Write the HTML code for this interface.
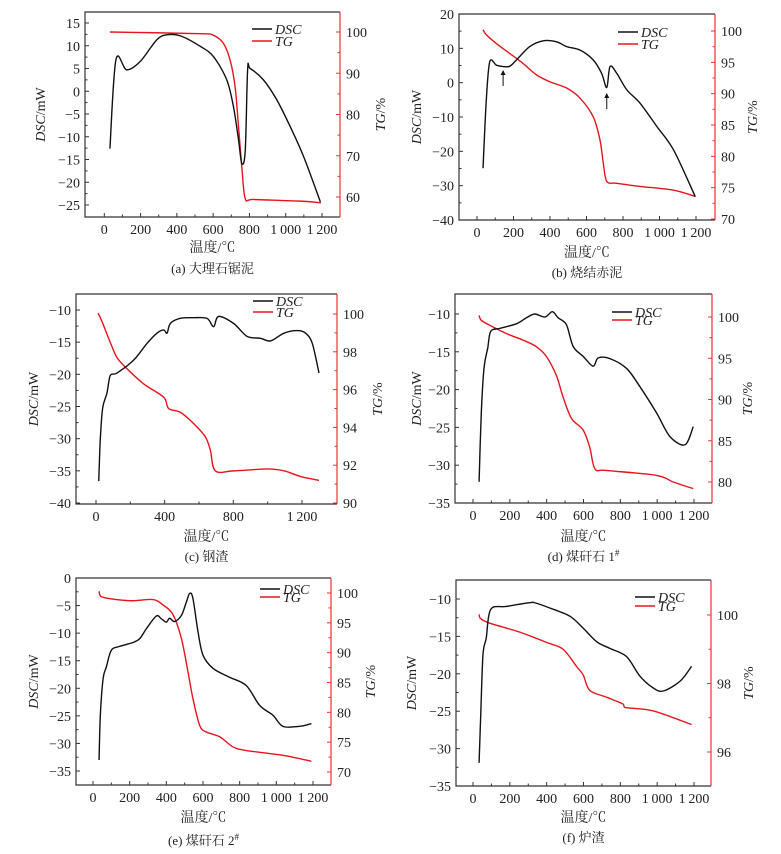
<!DOCTYPE html>
<html><head><meta charset="utf-8">
<style>
html,body{margin:0;padding:0;background:#fff;}
svg text{font-family:"Liberation Serif","Noto Serif CJK SC","Noto Sans CJK SC",serif;}
</style></head>
<body>
<svg id="fig" width="781" height="849" viewBox="0 0 781 849" xmlns="http://www.w3.org/2000/svg"></svg>
<script>
// ---- Panel (a) 大理石锯泥 ----
const dscTempA=[31,64,123,197,289,344,418,528,602,675,712,740,758,777,790,804,877,951,1025,1099,1191];
const dscValA=[-12.6,6.9,4.7,6.5,11.3,12.4,12.2,9.9,7.6,2.5,-3.4,-10.7,-15.9,-13,4.7,5.0,2.5,-1.9,-7.8,-14.4,-24.3];
const tgTempA=[31,528,602,657,694,721,740,758,777,823,1081,1194];
const tgValA=[100,99.6,99.2,97.2,93.1,86.7,77,67.3,59.6,59.4,59,58.6];
const leftTicksA=[15,10,5,0,-5,-10,-15,-20,-25];
const rightTicksA=[100,90,80,70,60];
// ---- Panel (b) 烧结赤泥 ----
const dscTempB=[33,51,70,106,143,180,216,289,363,436,491,564,637,683,711,729,766,821,894,986,1077,1196];
const dscValB=[-24.9,-5.0,6.1,5.1,4.7,4.8,6.6,10.5,12.2,11.9,10.5,9.5,6.6,2.7,-1.4,4.7,2.7,-2.1,-6.0,-12.8,-19.6,-33.2];
const tgTempB=[33,51,106,180,253,326,399,491,564,637,674,692,711,766,894,1077,1196];
const tgValB=[100.2,99.4,98.0,96.4,94.8,93.0,91.9,90.9,89.3,86.3,82.6,78.9,76.0,75.7,75.2,74.6,73.6];
const leftTicksB=[20,10,0,-10,-20,-30,-40];
const rightTicksB=[100,95,90,85,80,75,70];
// ---- Panel (c) 钢渣 ----
const dscTempC=[16,25,39,64,83,122,219,297,355,394,414,433,491,569,647,685,714,802,880,958,1017,1095,1172,1221,1260,1299];
const dscValC=[-36.6,-30.1,-25.2,-22.9,-20.2,-19.8,-17.8,-15.2,-13.6,-13.1,-13.6,-12.1,-11.3,-11.2,-11.3,-12.6,-11.0,-12.1,-14.1,-14.4,-14.8,-13.6,-13.2,-13.6,-15.2,-19.8];
const tgTempC=[12,35,83,122,181,278,394,423,491,569,637,666,695,802,997,1095,1192,1299];
const tgValC=[100.05,99.6,98.5,97.7,97.1,96.3,95.6,95.0,94.8,94.2,93.5,92.8,91.7,91.7,91.8,91.7,91.4,91.2];
const leftTicksC=[-10,-15,-20,-25,-30,-35,-40];
const rightTicksC=[100,98,96,94,92,90];
// ---- Panel (d) 煤矸石1# ----
const dscTempD=[33,45,60,80,96,145,236,290,335,390,431,462,507,544,598,652,680,743,834,906,997,1069,1151,1196];
const dscValD=[-32.2,-23.1,-17.1,-14.5,-12.3,-11.9,-11.3,-10.5,-10.0,-10.4,-9.7,-10.5,-11.4,-14.3,-15.6,-16.9,-15.8,-15.9,-17.2,-19.6,-23.1,-26.2,-27.3,-24.9];
const tgTempD=[33,45,91,181,272,344,399,453,489,535,598,634,662,725,997,1087,1196];
const tgValD=[100.2,99.6,99.0,98.0,97.2,96.4,95.2,92.9,90.3,87.7,86.3,84.2,81.6,81.4,80.8,80.0,79.2];
const leftTicksD=[-10,-15,-20,-25,-30,-35];
const rightTicksD=[100,95,90,85,80];
// ---- Panel (e) 煤矸石2# ----
const dscTempE=[33,40,55,73,100,145,218,255,291,345,373,400,418,445,482,509,527,545,573,600,655,745,836,909,982,1036,1127,1191];
const dscValE=[-33.0,-24.9,-18.3,-16.1,-13.1,-12.4,-11.7,-11.0,-9.2,-6.9,-7.4,-8.0,-7.3,-7.9,-6.8,-4.4,-2.8,-3.7,-9.8,-14.0,-16.4,-18.0,-19.5,-23.1,-24.9,-26.9,-26.9,-26.4];
const tgTempE=[33,45,127,218,327,382,436,482,518,545,582,618,691,764,836,1036,1191];
const tgValE=[100.3,99.4,98.9,98.7,98.9,98.0,96.4,92.4,86.8,82.3,77.8,76.7,75.9,74.2,73.6,72.8,71.8];
const leftTicksE=[0,-5,-10,-15,-20,-25,-30,-35];
const rightTicksE=[100,95,90,85,80,75,70];
// ---- Panel (f) 炉渣 ----
const dscTempF=[33,42,54,72,96,181,308,335,417,526,598,671,743,834,906,979,1033,1124,1187];
const dscValF=[-31.9,-25.5,-17.5,-15.2,-11.4,-11.0,-10.5,-10.5,-11.2,-12.3,-13.9,-15.7,-16.6,-17.7,-20.3,-21.9,-22.3,-21.0,-19.0];
const tgTempF=[33,40,91,254,399,489,562,598,634,725,815,824,979,1187];
const tgValF=[100.02,99.9,99.76,99.5,99.2,99.0,98.5,98.25,97.8,97.6,97.4,97.3,97.2,96.8];
const leftTicksF=[-10,-15,-20,-25,-30,-35];
const rightTicksF=[100,98,96];

const xTicksStd=[0,200,400,600,800,1000,1200];
const xTicksC=[0,400,800,1200];

const NS="http://www.w3.org/2000/svg";
const svg=document.getElementById('fig');
function mk(tag,attrs,parent){const e=document.createElementNS(NS,tag);for(const k in attrs)e.setAttribute(k,attrs[k]);(parent||svg).appendChild(e);return e;}
function fmt(v){const s=String(Math.abs(v));const t=s.length>3?s.slice(0,s.length-3)+'\u2009'+s.slice(-3):s;return (v<0?'\u2212':'')+t;}
function smooth(pts){
 if(pts.length<3)return 'M'+pts.map(p=>p.join(',')).join('L');
 let d='M'+pts[0][0]+','+pts[0][1];
 for(let i=0;i<pts.length-1;i++){
  const p0=pts[i-1]||pts[i],p1=pts[i],p2=pts[i+1],p3=pts[i+2]||p2;
  const k=0.16;
  let c1x=p1[0]+(p2[0]-p0[0])*k,c1y=p1[1]+(p2[1]-p0[1])*k;
  let c2x=p2[0]-(p3[0]-p1[0])*k,c2y=p2[1]-(p3[1]-p1[1])*k;
  c1x=Math.min(Math.max(c1x,p1[0]),p2[0]);c2x=Math.min(Math.max(c2x,p1[0]),p2[0]);
  d+=`C${c1x},${c1y} ${c2x},${c2y} ${p2[0]},${p2[1]}`;
 }
 return d;
}

const panels=[
 {id:'a',cap:'(a) 大理石锯泥',box:[85,12,340,217],x0:104.3,x1200:322,L:[15,23,-25,205],R:[100,32,60,197],lt:leftTicksA,rt:rightTicksA,lm:2.5,rm:5,xt:xTicksStd,xm:100,
  dT:dscTempA,dV:dscValA,tT:tgTempA,tV:tgValA,leg:[252,29,41],xl:252,cy:273,ylx:40,yrx:380},
 {id:'b',cap:'(b) 烧结赤泥',box:[459,14,715,220],x0:477,x1200:696,L:[20,14,-40,220],R:[100,31,70,219],lt:leftTicksB,rt:rightTicksB,lm:5,rm:2.5,xt:xTicksStd,xm:100,
  dT:dscTempB,dV:dscValB,tT:tgTempB,tV:tgValB,leg:[618,32,44],xl:257,cy:277,ylx:416,yrx:752},
 {id:'c',cap:'(c) 钢渣',box:[76,294,337,504],x0:96,x1200:302,L:[-10,310,-40,503],R:[100,314,90,503],lt:leftTicksC,rt:rightTicksC,lm:2.5,rm:1,xt:xTicksC,xm:200,
  dT:dscTempC,dV:dscValC,tT:tgTempC,tV:tgValC,leg:[253,301,312],xl:541,cy:561,ylx:33,yrx:377},
 {id:'d',cap:'(d) 煤矸石 1',sup:'#',box:[455,294,712,503],x0:473,x1200:694,L:[-10,314,-35,503],R:[100,317,80,482],lt:leftTicksD,rt:rightTicksD,lm:2.5,rm:2.5,xt:xTicksStd,xm:100,
  dT:dscTempD,dV:dscValD,tT:tgTempD,tV:tgValD,leg:[612,312,320],xl:541,cy:561,ylx:416,yrx:747},
 {id:'e',cap:'(e) 煤矸石 2',sup:'#',box:[76,578,331,785],x0:93,x1200:313,L:[0,578,-35,771],R:[100,593,70,772],lt:leftTicksE,rt:rightTicksE,lm:2.5,rm:2.5,xt:xTicksStd,xm:100,
  dT:dscTempE,dV:dscValE,tT:tgTempE,tV:tgValE,leg:[260,589,597],xl:822,cy:845,ylx:33,yrx:370},
 {id:'f',cap:'(f) 炉渣',box:[456,580,711,786],x0:473,x1200:694,L:[-10,599,-35,786],R:[100,615,96,752],lt:leftTicksF,rt:rightTicksF,lm:2.5,rm:1,xt:xTicksStd,xm:100,
  dT:dscTempF,dV:dscValF,tT:tgTempF,tV:tgValF,leg:[635,597,606],xl:822,cy:842,ylx:411,yrx:748}
];

panels.forEach(p=>{
 const g=mk('g',{});
 
 
 const [bx0,by0,bx1,by1]=p.box;
 const xs=v=>p.x0+v*(p.x1200-p.x0)/1200;
 const yl=v=>p.L[1]+(v-p.L[0])*(p.L[3]-p.L[1])/(p.L[2]-p.L[0]);
 const yr=v=>p.R[1]+(v-p.R[0])*(p.R[3]-p.R[1])/(p.R[2]-p.R[0]);
 const ax=mk('path',{d:`M${bx1},${by1}H${bx0}V${by0}H${bx1}`,fill:'none',stroke:'#333','stroke-width':1.2},g);
 
 
 const ra=mk('line',{x1:bx1,y1:by0,x2:bx1,y2:by1,stroke:'#f03030','stroke-width':1.2},g);
 
 
 for(let v=0;v<=1200;v+=p.xm){const x=xs(v);const maj=p.xt.includes(v);
  mk('line',{x1:x,y1:by1,x2:x,y2:by1-(maj?4:2.5),stroke:'#333','stroke-width':1},g);}
 p.xt.forEach(v=>{const t=mk('text',{x:xs(v),y:by1+17,'font-size':14,'text-anchor':'middle',fill:'#222'},g);t.textContent=fmt(v);
  
  });
 const lmin=Math.min(...p.lt),lmax=Math.max(...p.lt);
 for(let v=lmax;v>=lmin-1e-9;v-=p.lm){const y=yl(v);const maj=p.lt.some(t=>Math.abs(t-v)<1e-6);
  mk('line',{x1:bx0,y1:y,x2:bx0+(maj?4:2.5),y2:y,stroke:'#333','stroke-width':1},g);}
 p.lt.forEach(v=>{const t=mk('text',{x:bx0-5,y:yl(v)+5,'font-size':14,'text-anchor':'end',fill:'#222'},g);t.textContent=fmt(v);
  
  });
 const rmin=Math.min(...p.rt),rmax=Math.max(...p.rt);
 for(let v=rmax;v>=rmin-1e-9;v-=p.rm){const y=yr(v);const maj=p.rt.some(t=>Math.abs(t-v)<1e-6);
  mk('line',{x1:bx1,y1:y,x2:bx1-(maj?4:2.5),y2:y,stroke:'#f03030','stroke-width':1},g);}
 p.rt.forEach(v=>{const t=mk('text',{x:bx1+6,y:yr(v)+5,'font-size':14,'text-anchor':'start',fill:'#222'},g);t.textContent=fmt(v);
  
  });
 const tg=mk('path',{d:smooth(p.tT.map((t,i)=>[xs(t),yr(p.tV[i])])),fill:'none',stroke:'#e8141c','stroke-width':1.4,'stroke-linejoin':'round'},g);
 
 
 const ds=mk('path',{d:smooth(p.dT.map((t,i)=>[xs(t),yl(p.dV[i])])),fill:'none',stroke:'#111','stroke-width':1.4,'stroke-linejoin':'round'},g);
 
 
 const [lx,ly1,ly2]=p.leg;
 const lg=mk('g',{},g);
 
 
 mk('line',{x1:lx,y1:ly1,x2:lx+20,y2:ly1,stroke:'#111','stroke-width':1.4},lg);
 mk('line',{x1:lx,y1:ly2,x2:lx+20,y2:ly2,stroke:'#e8141c','stroke-width':1.4},lg);
 let t=mk('text',{x:lx+23,y:ly1+5,'font-size':14,'font-style':'italic',fill:'#222'},lg);t.textContent='DSC';
 t=mk('text',{x:lx+23,y:ly2+5,'font-size':14,'font-style':'italic',fill:'#222'},lg);t.textContent='TG';
 const cx=(bx0+bx1)/2;
 t=mk('text',{x:cx,y:p.xl,'font-size':14,'text-anchor':'middle',fill:'#222'},g);t.textContent='温度/℃';
 
 
 const cyy=(by0+by1)/2;
 t=mk('text',{x:0,y:0,'font-size':14,'text-anchor':'middle',fill:'#222',transform:`translate(${p.ylx+5},${cyy}) rotate(-90)`},g);
 t.innerHTML='<tspan font-style="italic">DSC</tspan>/mW';
 
 
 t=mk('text',{x:0,y:0,'font-size':14,'text-anchor':'middle',fill:'#222',transform:`translate(${p.yrx+5},${cyy}) rotate(-90)`},g);
 t.innerHTML='<tspan font-style="italic">TG</tspan>/%';
 
 
 t=mk('text',{x:cx,y:p.cy,'font-size':13,'text-anchor':'middle',fill:'#222'},g);
 t.innerHTML=p.cap+(p.sup?'<tspan font-size="9" dy="-5">'+p.sup+'</tspan>':'');
 
 
});
[[143],[711]].forEach(([T],i)=>{
 const x=477+T*(696-477)/1200;
 const a=mk('g',{});
 
 
 const ytop=i==0?70:93;
 mk('line',{x1:x,y1:ytop+4,x2:x,y2:ytop+16,stroke:'#111','stroke-width':1},a);
 mk('path',{d:`M${x-2.5},${ytop+5}L${x},${ytop}L${x+2.5},${ytop+5}Z`,fill:'#111'},a);
});
</script>
</body></html>
